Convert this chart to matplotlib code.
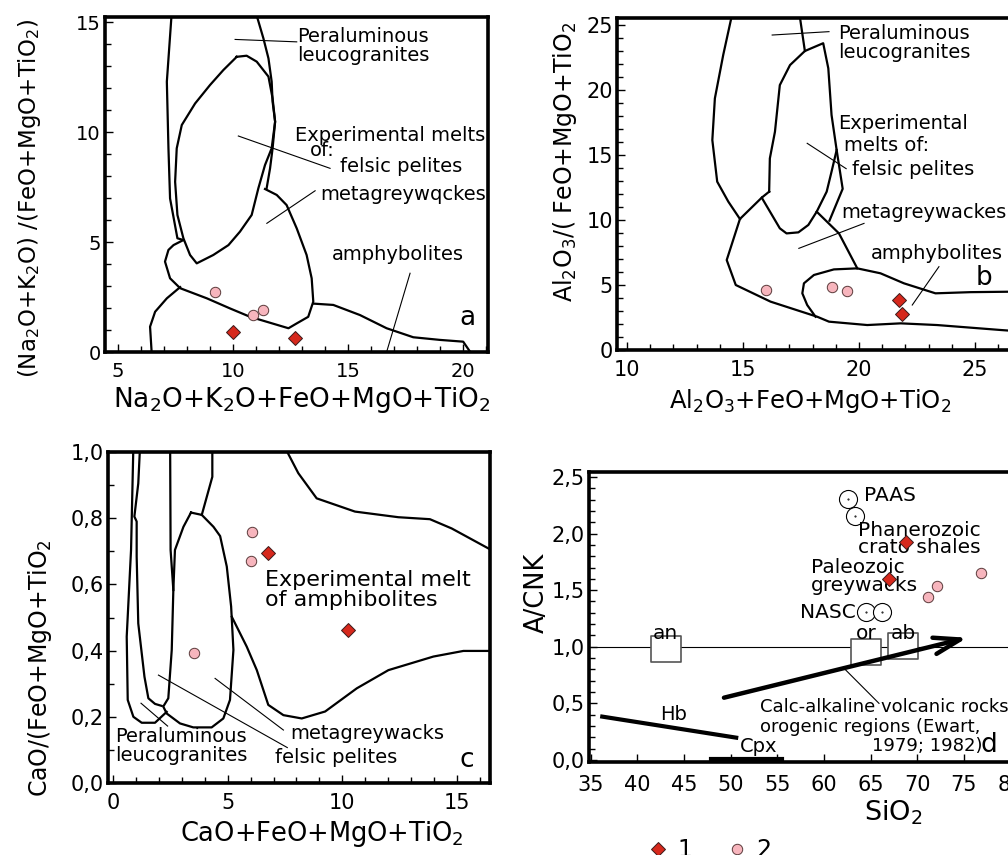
import matplotlib.pyplot as plt
from matplotlib.lines import Line2D
from matplotlib.path import Path

plt.rcParams['font.family'] = ['DejaVu Sans']
plt.rcParams['mathtext.default'] = 'regular'

RED = '#d6281c'
PINK = '#f7b5bd'

# ---------------- panel a ----------------
a_x1 = [10.0, 12.7]
a_y1 = [0.9, 0.65]
a_x2 = [9.22, 10.88, 11.32]
a_y2 = [2.74, 1.68, 1.91]

a_leuco_left = [(7.33, 15.4), (7.12, 12.29), (7.19, 9.26), (7.26, 6.98), (7.58, 5.17), (7.84, 5.09)]
a_leuco_right = [(11.0, 15.4), (11.32, 14.26), (11.54, 13.35), (11.68, 12.29), (11.72, 11.38),
                 (11.83, 10.47), (11.72, 9.26), (11.61, 8.35), (11.46, 7.44)]
a_felsic = [(10.16, 13.42), (10.59, 13.47), (11.03, 13.2), (11.54, 12.52), (11.72, 11.53),
            (11.83, 10.47), (11.68, 9.26), (11.39, 8.5), (11.1, 7.44), (10.81, 6.23), (10.3, 5.47),
            (9.8, 4.86), (9.14, 4.41), (8.42, 4.03), (8.13, 4.41), (7.84, 5.17), (7.58, 6.23),
            (7.48, 7.74), (7.55, 9.26), (7.77, 10.32), (8.35, 11.3), (9.0, 12.14), (9.58, 12.82),
            (10.16, 13.42)]
a_metagw = [(7.84, 5.09), (7.41, 4.86), (7.19, 4.64), (7.04, 4.11), (7.26, 3.35), (7.7, 2.9),
            (8.86, 2.44), (9.87, 1.98), (10.74, 1.6), (12.41, 1.08), (12.77, 1.3), (13.27, 1.6),
            (13.49, 2.29), (13.42, 3.35), (13.2, 4.41), (12.77, 5.62), (12.33, 6.68), (11.9, 7.14),
            (11.39, 7.41)]
a_amph_left = [(6.47, -0.2), (6.39, 1.15), (6.61, 1.83), (7.12, 2.44), (7.7, 2.95)]
a_amph_right = [(13.49, 2.2), (14.36, 2.14), (15.52, 1.68), (16.68, 1.08), (17.84, 0.67),
                (19.0, 0.55), (20.01, 0.47), (20.45, -0.2)]
a_leaders = [[(10.09, 14.21), (12.77, 14.1)], [(10.23, 9.82), (14.22, 8.35)],
             [(11.47, 5.85), (13.57, 7.33)], [(17.7, 3.58), (16.68, 0.0)]]

# ---------------- panel b ----------------
b_x1 = [21.72, 21.87]
b_y1 = [3.85, 2.75]
b_x2 = [15.98, 18.85, 19.5]
b_y2 = [4.62, 4.82, 4.54]

b_leuco_left = [(14.53, 25.8), (14.15, 22.7), (13.79, 19.36), (13.68, 16.15), (13.89, 12.95),
                (14.37, 11.41), (14.87, 10.08)]
b_leuco_right_top = [(17.44, 25.8), (17.67, 23.0)]
b_leuco_right_low = [(19.04, 15.38), (19.3, 12.4), (18.73, 9.95)]
b_felsic = [(16.13, 12.18), (15.81, 11.72), (16.59, 9.36), (16.88, 8.97), (17.39, 9.05),
            (17.82, 9.62), (18.18, 10.64), (18.61, 12.18), (18.82, 13.72), (19.04, 15.38),
            (18.82, 18.08), (18.68, 21.67), (18.46, 23.6), (17.67, 23.0), (17.03, 21.92),
            (16.59, 20.38), (16.38, 16.79), (16.16, 14.74), (16.13, 12.18)]
b_metagw = [(15.81, 11.72), (14.87, 10.08), (14.3, 6.92), (14.69, 5.0), (16.19, 3.72),
            (18.2, 2.56), (18.71, 2.18), (20.36, 1.92), (21.8, 2.05), (23.37, 1.92),
            (26.1, 1.54), (26.8, 1.45)]
b_metagw_right = [(18.18, 10.64), (19.14, 8.97), (19.93, 6.28)]
b_amph_top = [(18.13, 2.56), (17.77, 3.46), (17.56, 4.36), (17.63, 5.13), (18.06, 5.77),
              (18.92, 6.2), (19.93, 6.28), (20.93, 5.9), (21.94, 5.13), (23.3, 4.36),
              (24.81, 4.45), (26.8, 4.49)]
b_leaders = [[(16.26, 24.23), (18.71, 24.49)], [(17.77, 15.9), (19.45, 13.95)],
             [(17.41, 7.82), (20.22, 9.74)], [(22.3, 3.46), (23.45, 6.41)]]

# ---------------- panel c ----------------
c_x1 = [6.77, 10.23]
c_y1 = [0.694, 0.462]
c_x2 = [6.08, 6.0, 3.55]
c_y2 = [0.759, 0.672, 0.394]

c_leuco_outer = [(0.887, 1.02), (0.785, 0.704), (0.596, 0.442), (0.64, 0.251), (0.887, 0.2),
                 (1.25, 0.182), (1.83, 0.182), (2.34, 0.215)]
c_leuco_inner = [(1.18, 1.02), (1.1, 0.905), (0.93, 0.805), (1.03, 0.79), (1.03, 0.684),
                 (1.1, 0.482), (1.37, 0.321), (1.54, 0.256), (1.83, 0.239), (2.12, 0.233)]
c_line_c = [(2.49, 1.02), (2.51, 0.704), (2.63, 0.583)]
c_line_d = [(4.33, 1.02), (4.33, 0.925), (3.87, 0.81)]
c_felsic = [(3.4, 0.817), (3.87, 0.81), (4.38, 0.774), (4.67, 0.746), (4.96, 0.654), (5.15, 0.533),
            (5.25, 0.402), (5.1, 0.251), (4.81, 0.195), (4.3, 0.168), (3.5, 0.168), (2.92, 0.18),
            (2.34, 0.21), (2.19, 0.231), (2.41, 0.256), (2.56, 0.402), (2.63, 0.583), (2.7, 0.704),
            (3.07, 0.774), (3.4, 0.817)]
c_meta_low = [(5.18, 0.502), (5.83, 0.412), (6.27, 0.341), (6.77, 0.236), (7.43, 0.205),
              (8.23, 0.195), (9.25, 0.216), (10.63, 0.286), (12.01, 0.341), (13.97, 0.382),
              (15.28, 0.399), (16.6, 0.399)]
c_meta_top = [(7.45, 1.02), (8.08, 0.936), (8.88, 0.86), (10.55, 0.82), (12.44, 0.803),
              (13.82, 0.797), (14.77, 0.769), (16.6, 0.70)]
c_leaders = [[(1.22, 0.241), (2.38, 0.172)], [(1.98, 0.326), (7.6, 0.107)],
             [(4.45, 0.316), (7.43, 0.16)]]
c_yticks = [0.0, 0.2, 0.4, 0.6, 0.8, 1.0]
c_yticklabels = ['0,0', '0,2', '0,4', '0,6', '0,8', '1,0']

# ---------------- panel d ----------------
d_x1 = [68.76, 66.98]
d_y1 = [1.93, 1.596]
d_x2 = [71.16, 72.16, 76.87]
d_y2 = [1.443, 1.537, 1.655]
d_ref_x = [62.6, 63.33, 64.47, 66.25]      # PAAS, NASC
d_ref_y = [2.306, 2.155, 1.31, 1.31]
d_min_names = ['an', 'or', 'ab']
d_min_x = [43.05, 64.5, 68.5]
d_min_y = [0.98, 0.954, 1.004]
d_hb = [(36.25, 0.383), (50.6, 0.197)]
d_cpx = [(47.87, 0.012), (55.53, 0.012)]
d_calc = [(49.29, 0.55), (75.36, 1.08)]
d_leader = [(62.33, 0.795), (65.9, 0.5)]
d_xticks = [35, 40, 45, 50, 55, 60, 65, 70, 75, 80]
d_yticks = [0.0, 0.5, 1.0, 1.5, 2.0, 2.5]
d_yticklabels = ['0,0', '0,5', '1,0', '1,5', '2,0', '2,5']

W, H = 1008, 855
fig = plt.figure(figsize=(W / 100, H / 100), dpi=100)


def box(l, t, r, b):
    return [l / W, 1 - b / H, (r - l) / W, (b - t) / H]


def style(ax, tsize):
    for s in ax.spines.values():
        s.set_linewidth(2.6)
    ax.tick_params(which='both', direction='in', top=False, right=False, width=1, labelsize=tsize)
    ax.tick_params(which='major', length=6)
    ax.tick_params(which='minor', length=4)
    ax.tick_params(axis='x', pad=7)
    ax.tick_params(axis='y', pad=3)


def line(ax, pts, lw=1.6):
    xs, ys = zip(*pts)
    ax.plot(xs, ys, color='black', lw=lw, solid_joinstyle='round', zorder=2)


def samples(ax, x1, y1, x2, y2):
    ax.plot(x2, y2, 'o', ms=7.5, mfc=PINK, mec='#5a3a3a', mew=0.7, zorder=5)
    ax.plot(x1, y1, 'D', ms=7, mfc=RED, mec='#3a1a1a', mew=0.7, zorder=6)


# ---- a
ax = fig.add_axes(box(105, 17, 488, 352))
ax.set_xlim(4.43, 21.09)
ax.set_ylim(0, 15.23)
ax.set_xticks([5, 10, 15, 20])
ax.set_yticks([0, 5, 10, 15])
ax.set_xticks(range(5, 22), minor=True)
ax.set_yticks(range(0, 16), minor=True)
style(ax, 14)
for p in [a_leuco_left, a_leuco_right, a_felsic, a_metagw, a_amph_left, a_amph_right]:
    line(ax, p)
for p in a_leaders:
    line(ax, p, lw=0.8)
samples(ax, a_x1, a_y1, a_x2, a_y2)
ax.text(12.78, 13.89, 'Peraluminous\nleucogranites', fontsize=14, va='center', linespacing=1.0)
ax.text(12.7, 9.86, 'Experimental melts', fontsize=14, va='center')
ax.text(13.89, 9.15, 'of:', fontsize=14, va='center', ha='center')
ax.text(14.65, 8.42, 'felsic pelites', fontsize=14, va='center')
ax.text(13.81, 7.14, 'metagreywqckes', fontsize=14, va='center')
ax.text(14.29, 4.45, 'amphybolites', fontsize=14, va='center')
ax.text(20.2, 1.55, 'a', fontsize=19, va='center', ha='center')

# ---- b
ax = fig.add_axes(box(617, 18, 1012, 350))
ax.set_xlim(9.57, 26.6)
ax.set_ylim(0, 25.54)
ax.set_xticks([10, 15, 20, 25])
ax.set_yticks([0, 5, 10, 15, 20, 25])
ax.set_xticks(range(10, 27), minor=True)
ax.set_yticks(range(0, 26), minor=True)
style(ax, 15)
for p in [b_leuco_left, b_leuco_right_top, b_leuco_right_low, b_felsic, b_metagw,
          b_metagw_right, b_amph_top]:
    line(ax, p)
for p in b_leaders:
    line(ax, p, lw=0.8)
samples(ax, b_x1, b_y1, b_x2, b_y2)
ax.text(19.09, 23.65, 'Peraluminous\nleucogranites', fontsize=14, va='center', linespacing=1.0)
ax.text(19.09, 17.46, 'Experimental', fontsize=14, va='center')
ax.text(19.35, 15.77, 'melts of:', fontsize=14, va='center')
ax.text(19.7, 13.85, 'felsic pelites', fontsize=14, va='center')
ax.text(19.22, 10.6, 'metagreywackes', fontsize=14, va='center')
ax.text(20.52, 7.46, 'amphybolites', fontsize=14, va='center')
ax.text(25.39, 5.54, 'b', fontsize=19, va='center', ha='center')

# ---- c
ax = fig.add_axes(box(108, 452, 490, 783))
ax.set_xlim(-0.22, 16.44)
ax.set_ylim(0, 1.0)
ax.set_xticks([0, 5, 10, 15])
ax.set_xticks(range(0, 17), minor=True)
ax.set_yticks(c_yticks)
ax.set_yticklabels(c_yticklabels)
ax.set_yticks([0.1, 0.3, 0.5, 0.7, 0.9], minor=True)
style(ax, 15)
for p in [c_leuco_outer, c_leuco_inner, c_line_c, c_line_d, c_felsic, c_meta_low, c_meta_top]:
    line(ax, p)
for p in c_leaders:
    line(ax, p, lw=0.8)
samples(ax, c_x1, c_y1, c_x2, c_y2)
ax.text(0.09, 0.112, 'Peraluminous\nleucogranites', fontsize=14, va='center', linespacing=1.0)
ax.text(7.72, 0.151, 'metagreywacks', fontsize=14, va='center')
ax.text(7.07, 0.076, 'felsic pelites', fontsize=14, va='center')
ax.text(6.63, 0.583, 'Experimental melt\nof amphibolites', fontsize=16, va='center', linespacing=1.0)
ax.text(15.44, 0.07, 'c', fontsize=19, va='center', ha='center')

# ---- d
ax = fig.add_axes(box(589, 472, 1012, 762))
ax.set_xlim(34.83, 80.15)
ax.set_ylim(-0.018, 2.544)
ax.set_xticks(d_xticks)
ax.set_yticks(d_yticks)
ax.set_yticklabels(d_yticklabels)
ax.set_yticks([v / 10 for v in range(0, 26)], minor=True)
style(ax, 15)
ax.tick_params(axis='x', pad=9)
ax.axhline(1.0, color='black', lw=0.8, zorder=1)
rect = Path([(-1.2, -1), (1.2, -1), (1.2, 1), (-1.2, 1), (-1.2, -1)],
            [Path.MOVETO, Path.LINETO, Path.LINETO, Path.LINETO, Path.CLOSEPOLY])
ax.plot(d_min_x, d_min_y, ls='', marker=rect, ms=22, mfc='white', mec='#555555', mew=1.2, zorder=3)
for name, x, y in zip(d_min_names, d_min_x, d_min_y):
    ax.text(x, 1.12, name, fontsize=14.5, ha='center', va='center')
ax.plot(d_ref_x, d_ref_y, 'o', ms=13, mfc='white', mec='black', mew=0.8, zorder=3)
ax.plot(d_ref_x, d_ref_y, '.', ms=1, color='black', zorder=4)
line(ax, d_hb, lw=3)
line(ax, d_cpx, lw=3)
line(ax, d_leader, lw=0.8)
ax.annotate('', xy=d_calc[1], xytext=d_calc[0], zorder=4,
            arrowprops=dict(arrowstyle='->,head_length=0.95,head_width=0.3', lw=3.2,
                            color='black', mutation_scale=20, shrinkA=0, shrinkB=0))
samples(ax, d_x1, d_y1, d_x2, d_y2)
ax.text(64.3, 2.34, 'PAAS', fontsize=14.5, va='center')
ax.text(63.66, 1.95, 'Phanerozoic\ncrato shales', fontsize=14.5, va='center', linespacing=0.9)
ax.text(58.58, 1.62, 'Paleozoic\ngreywacks', fontsize=14.5, va='center', linespacing=0.9)
ax.text(63.4, 1.3, 'NASC', fontsize=14.5, va='center', ha='right')
ax.text(53.1, 0.466, 'Calc-alkaline volcanic rocks', fontsize=13, va='center')
ax.text(53.1, 0.294, 'orogenic regions (Ewart,', fontsize=13, va='center')
ax.text(65.1, 0.124, '1979; 1982)', fontsize=13, va='center')
ax.text(77.68, 0.133, 'd', fontsize=19, va='center', ha='center')
ax.text(43.93, 0.4, 'Hb', fontsize=14, va='center', ha='center')
ax.text(53.04, 0.118, 'Cpx', fontsize=14, va='center', ha='center')

# ---- axis titles
def ftext(x, y, s, size, rot=0):
    fig.text(x / W, 1 - y / H, s, fontsize=size, rotation=rot, ha='center', va='center')


ftext(302, 400, 'Na$_2$O+K$_2$O+FeO+MgO+TiO$_2$', 19)
ftext(30, 198, '(Na$_2$O+K$_2$O) /(FeO+MgO+TiO$_2$)', 16.5, 90)
ftext(810, 401, 'Al$_2$O$_3$+FeO+MgO+TiO$_2$', 17.5)
ftext(565, 162, 'Al$_2$O$_3$/( FeO+MgO+TiO$_2$', 17, 90)
ftext(322, 834, 'CaO+FeO+MgO+TiO$_2$', 18.5)
ftext(40, 668, 'CaO/(FeO+MgO+TiO$_2$', 17, 90)
ftext(893, 813, 'SiO$_2$', 19.5)
ftext(537, 593, 'A/CNK', 18.5, 90)

handles = [Line2D([], [], ls='', marker='D', ms=7, mfc=RED, mec='#3a1a1a', mew=0.7),
           Line2D([], [], ls='', marker='o', ms=7.5, mfc=PINK, mec='#5a3a3a', mew=0.7)]
fig.legend(handles, ['1', '2'], ncol=2, frameon=False, fontsize=17, loc='center',
           bbox_to_anchor=(0.703, 0.006), handlelength=1.0, handletextpad=0.3, columnspacing=1.4)

fig.savefig('out.png', dpi=100)
